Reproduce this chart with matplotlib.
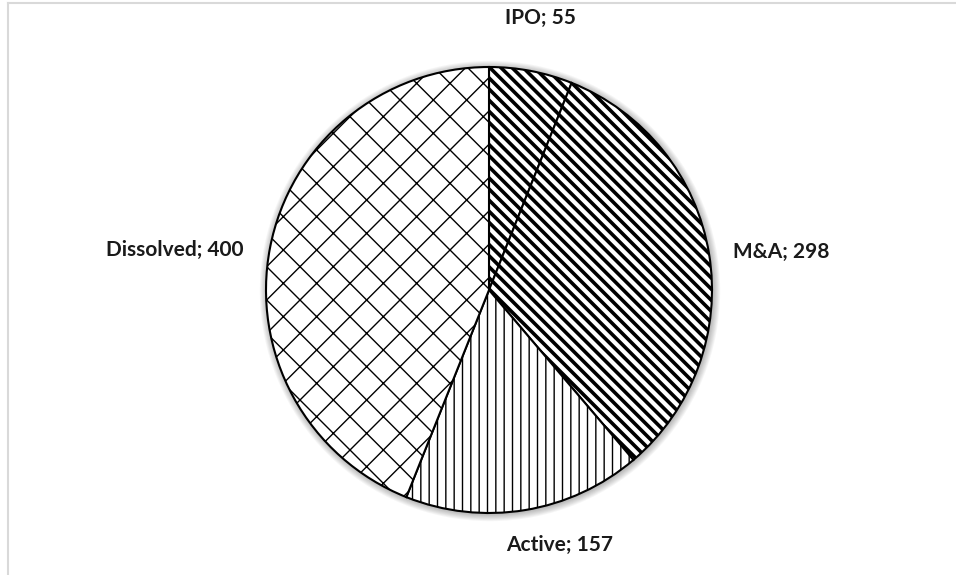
import numpy as np
import matplotlib
matplotlib.use("Agg")
import matplotlib.pyplot as plt
from matplotlib.patches import Circle
from matplotlib.lines import Line2D

# data
categories = ["IPO", "M&A", "Active", "Dissolved"]
values = [55, 298, 157, 400]
hatches = ["\\\\\\", "\\\\\\", "||", "x"]
hatch_lw = [2.6, 2.6, 1.0, 1.0]

plt.rcParams['font.family'] = ['Lato', 'DejaVu Sans']

W, H = 956, 575
fig = plt.figure(figsize=(W / 100, H / 100), dpi=100)
ax = fig.add_axes([0, 0, 1, 1])

cx, cy, r = 489, 575 - 290, 223

# soft shadow around the pie
for k in range(1, 9):
    ax.add_patch(Circle((cx + 1, cy - 1), r + k * 0.9, facecolor='black',
                        edgecolor='none', alpha=0.035, zorder=0))

wedges, _ = ax.pie(values, center=(cx, cy), radius=r, startangle=90,
                   counterclock=False, frame=True,
                   wedgeprops=dict(facecolor='white', edgecolor='black', linewidth=1.5))
ax.set_xlim(0, W)
ax.set_ylim(0, H)
ax.set_aspect('equal')
ax.axis('off')

for w, h, lw in zip(wedges, hatches, hatch_lw):
    w.set_hatch(h)
    try:
        w.set_hatch_linewidth(lw)
    except AttributeError:
        pass
    w.set_zorder(2)

# data labels "Name; value", placed outside like Excel's best fit
label_pos = [(540, 18), (781, 252), (560, 545), (175, 250)]
for name, val, (px, py) in zip(categories, values, label_pos):
    ax.text(px, H - py, f"{name}; {val}", ha='center', va='center',
            fontsize=15, fontweight='bold', color='#1a1a1a')

# chart area border (only top and left visible)
border = '#d9d9d9'
fig.add_artist(Line2D([8 / W, 8 / W], [0, 1 - 3 / H], transform=fig.transFigure,
                      color=border, lw=1.5))
fig.add_artist(Line2D([8 / W, 1], [1 - 3 / H, 1 - 3 / H], transform=fig.transFigure,
                      color=border, lw=1.5))

fig.savefig("out.png", dpi=100, facecolor='white')
